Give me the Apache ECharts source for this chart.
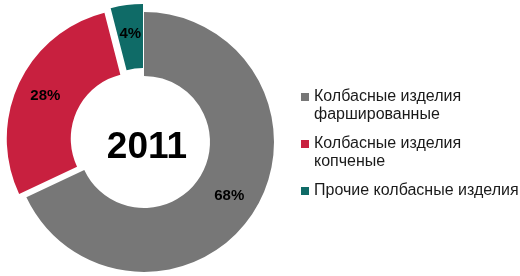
<!DOCTYPE html>
<html>
<head>
<meta charset="utf-8">
<script src="https://cdn.jsdelivr.net/npm/echarts@6/dist/echarts.min.js"></script>
<style>
  html, body { margin: 0; padding: 0; background: #fff; }
  #chart { width: 520px; height: 276px; }
</style>
</head>
<body>
<div id="chart"></div>
<script>
// data
const year = "2011";
const categories = [
  "Колбасные изделия\nфаршированные",
  "Колбасные изделия\nкопченые",
  "Прочие колбасные изделия"
];
const shares = [68, 28, 4];
const exploded = [false, true, true];

const colors = ["#777777", "#c8203f", "#0f6b67"];
const font = "Liberation Sans, Arial, sans-serif";
// square at the top of a taller box, so the icon sits on the first text line
const legendIcon = "path://M0,5h8v8h-8zM0,0M0,36";

const chart = echarts.init(document.getElementById("chart"));
chart.setOption({
  animation: false,
  color: colors,
  title: {
    text: year,
    left: 142,
    top: 143,
    textAlign: "center",
    textVerticalAlign: "middle",
    textStyle: { fontFamily: font, fontSize: 37, fontWeight: "bold", color: "#000" }
  },
  legend: {
    orient: "vertical",
    left: 296,
    top: 83,
    itemWidth: 8,
    itemHeight: 36,
    itemGap: 11,
    icon: legendIcon,
    selectedMode: false,
    formatter: (name) => (name.indexOf("\n") < 0 ? name + "\n" : name),
    textStyle: { fontFamily: font, fontSize: 16, lineHeight: 18, color: "#1a1a1a" },
    data: categories
  },
  series: [{
    type: "pie",
    center: [144, 142],
    radius: [66, 130],
    startAngle: 90,
    clockwise: true,
    selectedMode: "multiple",
    selectedOffset: 8,
    emphasis: { disabled: true },
    label: {
      position: "inside",
      formatter: "{c}%",
      fontFamily: font,
      fontSize: 15,
      fontWeight: "bold",
      color: "#000"
    },
    labelLine: { show: false },
    data: categories.map((n, i) => ({ name: n, value: shares[i], selected: exploded[i] }))
  }]
});
</script>
</body>
</html>
